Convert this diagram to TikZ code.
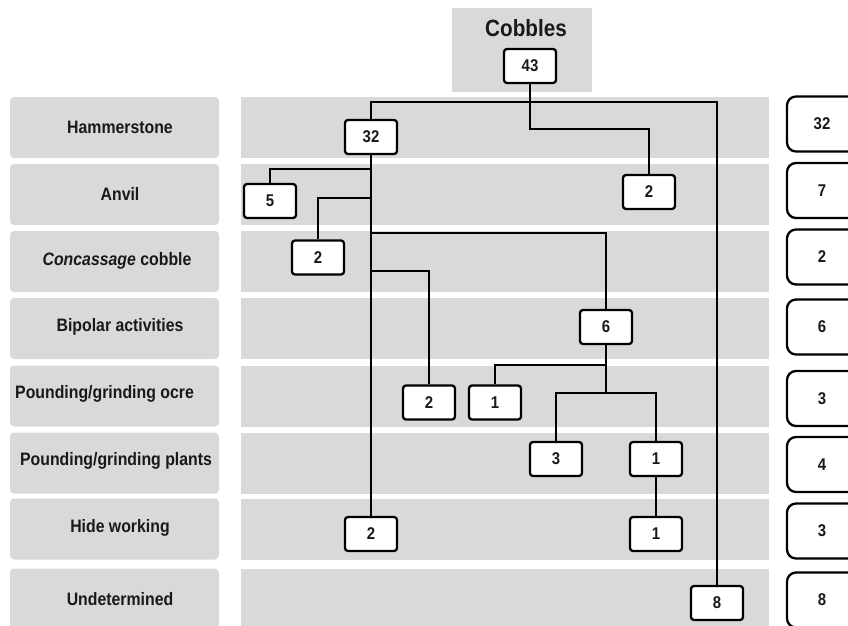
\documentclass[tikz,border=0pt]{standalone}
\usepackage{fontspec}
\setmainfont{Liberation Sans}[FakeStretch=0.88]
\begin{document}
\begin{tikzpicture}[x=1pt,y=-1pt,
  every node/.style={text=black!90},
  labbox/.style={fill=gray!30, rounded corners=4pt, minimum width=209pt, minimum height=61pt, inner sep=0pt},
  midband/.style={fill=gray!30, minimum width=528pt, minimum height=61pt, inner sep=0pt},
  labtext/.style={font=\bfseries\fontsize{18}{20}\selectfont, inner sep=0pt},
  num/.style={draw=black, text=black!90, line width=2.3pt, rounded corners=3pt, fill=white, minimum width=52pt, minimum height=34pt, inner sep=0pt, font=\bfseries\fontsize{17}{19}\selectfont},
  tot/.style={draw=black, text=black!90, line width=2.3pt, rounded corners=9pt, fill=white, minimum width=70pt, minimum height=55pt, inner sep=0pt, font=\bfseries\fontsize{17}{19}\selectfont},
  link/.style={line width=2.6pt, draw=black}]
\useasboundingbox (0,0) rectangle (848,625);

% header
\node[fill=gray!30, minimum width=140pt, minimum height=84pt, inner sep=0pt] (cob) at (522,50) {};
\node[font=\bfseries\fontsize{23.5}{26}\selectfont, inner sep=0pt] (cobt) at (526,28) {Cobbles};

% row label boxes
\node[labbox] (L1) at (114.5,127.5) {};
\node[labbox] (L2) at (114.5,194.5) {};
\node[labbox] (L3) at (114.5,261.5) {};
\node[labbox] (L4) at (114.5,328.5) {};
\node[labbox] (L5) at (114.5,396) {};
\node[labbox] (L6) at (114.5,463) {};
\node[labbox] (L7) at (114.5,529) {};
\node[labbox] (L8) at (114.5,599) {};

% middle bands
\node[midband] (M1) at (505,127.5) {};
\node[midband] (M2) at (505,194.5) {};
\node[midband] (M3) at (505,261.5) {};
\node[midband] (M4) at (505,328.5) {};
\node[midband] (M5) at (505,396) {};
\node[midband] (M6) at (505,463) {};
\node[midband] (M7) at (505,529) {};
\node[midband] (M8) at (505,599) {};

% label texts
\node[labtext] (T1) at (120,127) {Hammerstone};
\node[labtext] (T2) at (120,194) {Anvil};
\node[labtext] (T3) at (117,261) {\textit{Concassage} cobble};
\node[labtext] (T4) at (120,327) {Bipolar activities};
\node[labtext, anchor=west] (T5) at (15,394) {Pounding/grinding ocre};
\node[labtext] (T6) at (116,461) {Pounding/grinding plants};
\node[labtext] (T7) at (120,528) {Hide working};
\node[labtext] (T8) at (120,599) {Undetermined};

% totals
\node[tot] (R1) at (822,124) {32};
\node[tot] (R2) at (822,190.5) {7};
\node[tot] (R3) at (822,257) {2};
\node[tot] (R4) at (822,327) {6};
\node[tot] (R5) at (822,398.5) {3};
\node[tot] (R6) at (822,464.5) {4};
\node[tot] (R7) at (822,531) {3};
\node[tot] (R8) at (822,600) {8};

% count boxes
\node[num] (n43) at (530,66) {43};
\node[num] (n32) at (371,137) {32};
\node[num] (n2a) at (649,192) {2};
\node[num] (n5) at (270,201) {5};
\node[num] (n2c) at (318,257.5) {2};
\node[num] (n6) at (606,327) {6};
\node[num] (n2o) at (429,402.5) {2};
\node[num] (n1o) at (495,402.5) {1};
\node[num] (n3p) at (556,459) {3};
\node[num] (n1p) at (656,459) {1};
\node[num] (n2h) at (371,534) {2};
\node[num] (n1h) at (656,534) {1};
\node[num] (n8) at (717,603) {8};

% levels of horizontal connectors
\coordinate (hTop) at (0,102);
\coordinate (hR) at (0,129);
\coordinate (h5) at (0,169);
\coordinate (h2c) at (0,198);
\coordinate (h6) at (0,233);
\coordinate (h2o) at (0,271);
\coordinate (h1o) at (0,365);
\coordinate (hP) at (0,393);

% connectors
\draw[link] (n43.south) |- (n2a.north |- hR) -- (n2a.north);
\draw[link] (n32.north) |- (n8.north |- hTop) -- (n8.north);
\draw[link] (n32.south) -- (n2h.north);
\draw[link] (n32 |- h5) -| (n5.north);
\draw[link] (n32 |- h2c) -| (n2c.north);
\draw[link] (n32 |- h6) -| (n6.north);
\draw[link] (n32 |- h2o) -| (n2o.north);
\draw[link] (n6.south) -- (n6 |- hP);
\draw[link] (n6 |- h1o) -| (n1o.north);
\draw[link] (n3p.north) |- (n1p.north |- hP) -- (n1p.north);
\draw[link] (n1p.south) -- (n1h.north);
\end{tikzpicture}
\end{document}
